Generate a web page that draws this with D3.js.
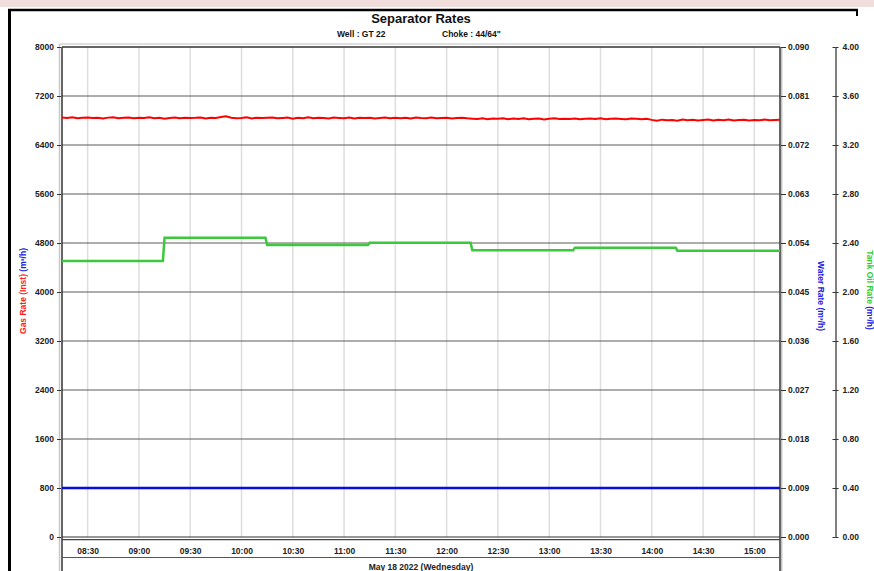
<!DOCTYPE html>
<html>
<head>
<meta charset="utf-8">
<script src="https://cdn.jsdelivr.net/npm/d3@7"></script>
<style>
	body { margin: 0; background: #fff; }
	svg { display: block; }
	text { font-family: "Liberation Sans", Arial, sans-serif; font-weight: bold; }
</style>
</head>
<body>
<div id="chart"></div>
<script>
const day = '2022-05-18';
const timeStart = '08:15';
const timeEnd = '15:15';

// gas rate, one reading every 3 minutes from 08:15
const gasStepMinutes = 3;
const gasRate = [
	6848, 6840, 6853, 6836, 6845, 6850, 6839, 6844, 6831, 6847, 6852, 6838, 6843, 6849, 6835, 6846,
	6841, 6854, 6837, 6844, 6830, 6842, 6848, 6836, 6845, 6839,
	6843, 6850, 6834, 6846, 6840, 6857, 6868, 6845, 6837, 6842, 6851, 6833, 6846, 6839, 6844, 6849,
	6835, 6841, 6847, 6830, 6843, 6838, 6852, 6836, 6845, 6840, 6833, 6847, 6842, 6837, 6850, 6834,
	6844, 6839, 6846, 6831, 6841, 6848, 6836, 6843, 6838, 6845, 6832, 6847, 6840, 6835, 6849, 6837,
	6842, 6846, 6833, 6840, 6844, 6836,
	6830, 6824, 6836, 6821, 6832, 6827, 6838, 6819, 6831, 6826, 6835, 6822, 6829, 6833, 6818, 6828,
	6836, 6823, 6830, 6825, 6834, 6820, 6829, 6832, 6824, 6837, 6821, 6828, 6833, 6826, 6819, 6831,
	6827, 6822, 6829,
	6810, 6797, 6814, 6803, 6809, 6798, 6816, 6805, 6812, 6800, 6807, 6815, 6799, 6811, 6804, 6817,
	6802, 6808, 6813, 6801, 6810, 6806, 6815, 6803, 6809, 6812
];

const oilTimes = ['08:15', '09:14', '09:15', '10:14', '10:15', '11:14', '11:15', '12:14', '12:15', '13:14', '13:15', '14:14', '14:15', '15:15'];
const oilRate = [2.253, 2.253, 2.443, 2.443, 2.384, 2.384, 2.402, 2.402, 2.340, 2.340, 2.362, 2.362, 2.337, 2.337];

const waterTimes = ['08:15', '15:15'];
const waterRate = [0.009, 0.009];

const gasTicks = [0, 800, 1600, 2400, 3200, 4000, 4800, 5600, 6400, 7200, 8000];
const waterTicks = [0, 0.009, 0.018, 0.027, 0.036, 0.045, 0.054, 0.063, 0.072, 0.081, 0.090];
const oilTicks = [0, 0.4, 0.8, 1.2, 1.6, 2.0, 2.4, 2.8, 3.2, 3.6, 4.0];

let svgWidth = 874;
let svgHeight = 571;
let padding = {
	'left': 62,
	'right': 94,
	'top': 47,
	'bottom': 34
};
let plotRight = svgWidth - padding.right;
let plotBottom = svgHeight - padding.bottom;

let parse = d3.timeParse('%Y-%m-%d %H:%M');
let t = s => parse(day + ' ' + s);

let svg = d3.select('#chart').append('svg')
	.attr('width', svgWidth)
	.attr('height', svgHeight);

let x = d3.scaleTime()
	.domain([t(timeStart), t(timeEnd)])
	.range([padding.left, plotRight]);
let yGas = d3.scaleLinear()
	.domain([0, 8000])
	.range([plotBottom, padding.top]);
let yWater = d3.scaleLinear()
	.domain([0, 0.09])
	.range([plotBottom, padding.top]);
let yOil = d3.scaleLinear()
	.domain([0, 4])
	.range([plotBottom, padding.top]);

// window frame
svg.append('rect')
	.attr('x', 0).attr('y', 0)
	.attr('width', svgWidth).attr('height', 7)
	.attr('fill', '#f2dddd');
svg.append('line')
	.attr('x1', 8).attr('y1', 10).attr('x2', 858).attr('y2', 10)
	.attr('stroke', '#000').attr('stroke-width', 2.5);
svg.append('line')
	.attr('x1', 9.5).attr('y1', 9).attr('x2', 9.5).attr('y2', svgHeight)
	.attr('stroke', '#000').attr('stroke-width', 3);
svg.append('line')
	.attr('x1', 857).attr('y1', 9).attr('x2', 857).attr('y2', 16)
	.attr('stroke', '#000').attr('stroke-width', 2);

// titles
svg.append('text')
	.attr('x', 421).attr('y', 23)
	.attr('text-anchor', 'middle')
	.attr('font-size', '13px')
	.attr('fill', '#111')
	.text('Separator Rates');
svg.append('text')
	.attr('x', 337).attr('y', 37)
	.attr('font-size', '8.5px')
	.attr('fill', '#111')
	.text('Well : GT 22');
svg.append('text')
	.attr('x', 442).attr('y', 37)
	.attr('font-size', '8.5px')
	.attr('fill', '#111')
	.text('Choke : 44/64"');

// shadow lines around plot
svg.append('line')
	.attr('x1', padding.left - 2).attr('y1', padding.top - 3).attr('x2', plotRight).attr('y2', padding.top - 3)
	.attr('stroke', '#d4d4d4').attr('stroke-width', 1.5);
svg.append('line')
	.attr('x1', padding.left - 2.5).attr('y1', padding.top - 3).attr('x2', padding.left - 2.5).attr('y2', svgHeight)
	.attr('stroke', '#c8c8c8').attr('stroke-width', 1.5);

let xTicks = x.ticks(d3.timeMinute.every(30));

// grid
let grid = svg.append('g').classed('grid', true);
grid.selectAll('line.v')
	.data(xTicks)
	.enter()
	.append('line')
	.attr('class', 'v')
	.attr('x1', d => x(d)).attr('x2', d => x(d))
	.attr('y1', padding.top).attr('y2', plotBottom)
	.attr('stroke', '#dedede')
	.attr('stroke-width', 1.5);
grid.selectAll('line.h')
	.data(gasTicks.slice(1, -1))
	.enter()
	.append('line')
	.attr('class', 'h')
	.attr('x1', padding.left).attr('x2', plotRight)
	.attr('y1', d => yGas(d)).attr('y2', d => yGas(d))
	.attr('stroke', '#5a5a5a')
	.attr('stroke-width', 1);

// plot border
let border = svg.append('g').classed('border', true);
border.append('line')
	.attr('x1', padding.left).attr('y1', padding.top).attr('x2', plotRight).attr('y2', padding.top)
	.attr('stroke', '#333').attr('stroke-width', 1.5);
border.append('line')
	.attr('x1', padding.left).attr('y1', padding.top).attr('x2', padding.left).attr('y2', svgHeight)
	.attr('stroke', '#333').attr('stroke-width', 1.5);
border.append('line')
	.attr('x1', plotRight).attr('y1', padding.top).attr('x2', plotRight).attr('y2', svgHeight)
	.attr('stroke', '#333').attr('stroke-width', 1.5);
border.append('line')
	.attr('x1', plotRight + 1.8).attr('y1', padding.top).attr('x2', plotRight + 1.8).attr('y2', svgHeight)
	.attr('stroke', '#aaa').attr('stroke-width', 1);
border.append('line')
	.attr('x1', padding.left).attr('y1', plotBottom).attr('x2', plotRight).attr('y2', plotBottom)
	.attr('stroke', '#333').attr('stroke-width', 1.2);
border.append('line')
	.attr('x1', padding.left).attr('y1', plotBottom + 2.6).attr('x2', plotRight).attr('y2', plotBottom + 2.6)
	.attr('stroke', '#444').attr('stroke-width', 1.2);
border.append('line')
	.attr('x1', padding.left).attr('y1', plotBottom + 20.5).attr('x2', plotRight).attr('y2', plotBottom + 20.5)
	.attr('stroke', '#555').attr('stroke-width', 1.2);

// axes
let axes = svg.append('g').classed('axes', true);

let axisGas = d3.axisLeft(yGas)
	.tickValues(gasTicks)
	.tickSize(4)
	.tickPadding(3)
	.tickFormat(d => d);
axes.append('g')
	.attr('transform', `translate(${padding.left - 1}, 0)`)
	.call(axisGas)
	.call(g => g.select('.domain').remove());

let axisWater = d3.axisRight(yWater)
	.tickValues(waterTicks)
	.tickSize(5)
	.tickPadding(2)
	.tickFormat(d => d.toFixed(3));
axes.append('g')
	.attr('transform', `translate(${plotRight + 1}, 0)`)
	.call(axisWater)
	.call(g => g.select('.domain').remove());

let oilX = 835.5;
let axisOil = d3.axisRight(yOil)
	.tickValues(oilTicks)
	.tickSize(3)
	.tickSizeOuter(0)
	.tickPadding(4)
	.tickFormat(d => d.toFixed(2));
let oilAxisG = axes.append('g')
	.attr('transform', `translate(${oilX}, 0)`)
	.call(axisOil);
oilAxisG.selectAll('g.tick')
	.append('line')
	.attr('x1', -3).attr('x2', 0)
	.attr('stroke', '#333');
oilAxisG.select('.domain').attr('stroke', '#555').attr('stroke-width', 1.5);

let axisX = d3.axisBottom(x)
	.tickValues(xTicks)
	.tickSize(0)
	.tickPadding(11)
	.tickFormat(d3.timeFormat('%H:%M'));
axes.append('g')
	.attr('transform', `translate(0, ${plotBottom})`)
	.call(axisX)
	.call(g => g.select('.domain').remove());

axes.selectAll('.tick text')
	.attr('font-size', '8.5px')
	.attr('font-family', '"Liberation Sans", Arial, sans-serif')
	.attr('font-weight', 'bold')
	.attr('fill', '#222');
axes.selectAll('.tick line')
	.attr('stroke', '#333');

svg.append('text')
	.attr('x', 421).attr('y', 570)
	.attr('text-anchor', 'middle')
	.attr('font-size', '8.5px')
	.attr('fill', '#222')
	.text('May 18 2022 (Wednesday)');

// axis titles
let gasTitle = svg.append('text')
	.attr('transform', 'translate(26, 291) rotate(-90)')
	.attr('text-anchor', 'middle')
	.attr('font-size', '8.5px');
gasTitle.append('tspan').attr('fill', '#ff2020').text('Gas Rate (Inst) ');
gasTitle.append('tspan').attr('fill', '#2020dd').text('(m³/h)');

svg.append('text')
	.attr('transform', 'translate(818, 296) rotate(90)')
	.attr('text-anchor', 'middle')
	.attr('font-size', '8.5px')
	.attr('fill', '#2020dd')
	.text('Water Rate (m³/h)');

let oilTitle = svg.append('text')
	.attr('transform', 'translate(866.5, 290) rotate(90)')
	.attr('text-anchor', 'middle')
	.attr('font-size', '8.5px');
oilTitle.append('tspan').attr('fill', '#33cc33').text('Tank Oil Rate ');
oilTitle.append('tspan').attr('fill', '#2020dd').text('(m³/h)');

// series
let body = svg.append('g').classed('body', true);

let gasData = gasRate.map((v, i) => ({ time: d3.timeMinute.offset(t(timeStart), i * gasStepMinutes), value: v }));
let oilData = oilTimes.map((s, i) => ({ time: t(s), value: oilRate[i] }));
let waterData = waterTimes.map((s, i) => ({ time: t(s), value: waterRate[i] }));

body.append('path')
	.datum(waterData)
	.attr('fill', 'none')
	.attr('stroke', '#0a0ae8')
	.attr('stroke-width', 2.5)
	.attr('d', d3.line().x(d => x(d.time)).y(d => yWater(d.value)));

body.append('path')
	.datum(oilData)
	.attr('fill', 'none')
	.attr('stroke', '#3cc83c')
	.attr('stroke-width', 2.5)
	.attr('d', d3.line().x(d => x(d.time)).y(d => yOil(d.value)));

body.append('path')
	.datum(gasData)
	.attr('fill', 'none')
	.attr('stroke', '#ff0000')
	.attr('stroke-width', 2)
	.attr('d', d3.line().x(d => x(d.time)).y(d => yGas(d.value)));
</script>
</body>
</html>
